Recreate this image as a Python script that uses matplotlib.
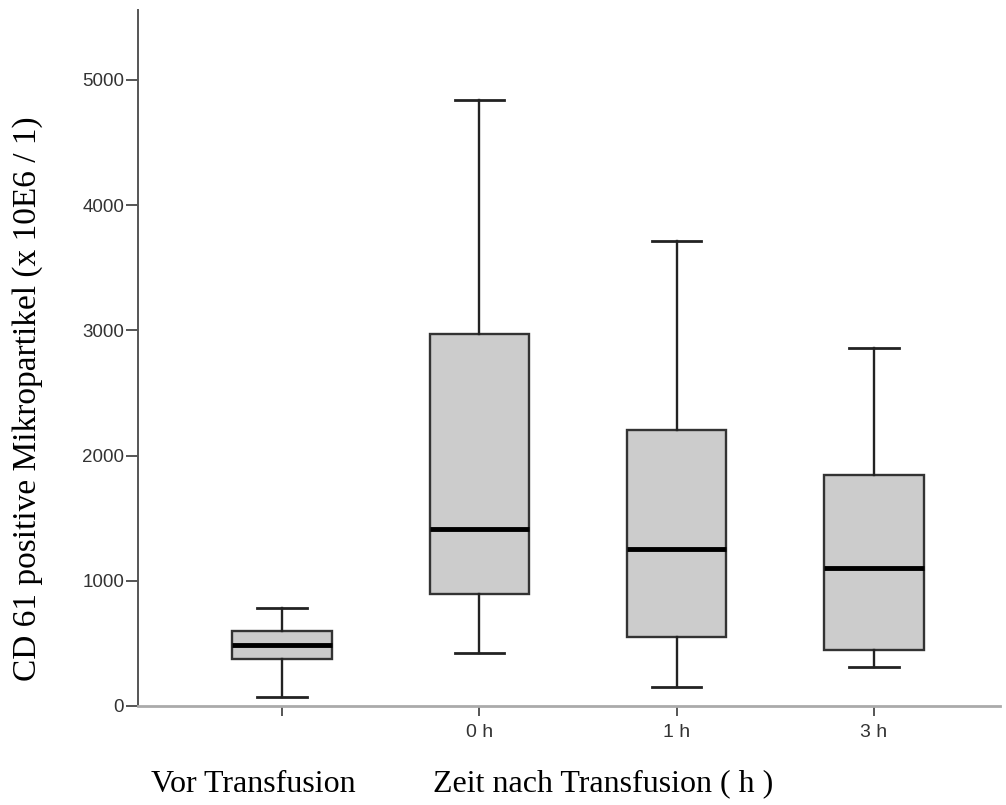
import matplotlib
matplotlib.use("Agg")
import matplotlib.pyplot as plt

# values (x 10E6 / l)
groups = ["", "0 h", "1 h", "3 h"]
whislo = [72, 423, 152, 311]
q1 = [375, 895, 551, 447]
med = [487, 1414, 1254, 1102]
q3 = [599, 2971, 2204, 1845]
whishi = [783, 4840, 3714, 2859]

stats = []
for i in range(len(groups)):
    stats.append(dict(label=groups[i], whislo=whislo[i], q1=q1[i], med=med[i],
                      q3=q3[i], whishi=whishi[i], fliers=[]))

fig = plt.figure(figsize=(10.06, 8.05), dpi=100)
ax = fig.add_axes([0.1372, 0.123, 0.857, 0.865])

ax.bxp(stats, positions=range(len(groups)), widths=0.505, patch_artist=True,
       showfliers=False,
       boxprops=dict(facecolor="#cccccc", edgecolor="#333333", linewidth=1.7),
       medianprops=dict(color="black", linewidth=3.5),
       whiskerprops=dict(color="#222222", linewidth=1.7),
       capprops=dict(color="#222222", linewidth=2),
       capwidths=0.25)

ax.set_xlim(-0.73, 3.64)
ax.set_ylim(0, 5560)
ax.set_yticks([0, 1000, 2000, 3000, 4000, 5000])
ax.set_xticks(range(len(groups)))
ax.set_xticklabels(groups)

for s in ["top", "right"]:
    ax.spines[s].set_visible(False)
ax.spines["left"].set_color("#555555")
ax.spines["left"].set_linewidth(1.4)
ax.spines["bottom"].set_color("#aaaaaa")
ax.spines["bottom"].set_linewidth(2)

ax.tick_params(axis="y", length=9, width=1.4, color="#555555", pad=1,
               labelsize=13.5, labelcolor="#333333")
ax.tick_params(axis="x", length=7, width=1.4, color="#555555", pad=6,
               labelsize=14, labelcolor="#333333")
for lab in ax.get_xticklabels() + ax.get_yticklabels():
    lab.set_fontfamily("Liberation Sans")

fig.text(0.027, 0.505, "CD 61 positive Mikropartikel (x 10E6 / 1)", rotation=90,
         ha="center", va="center", fontsize=24, family="Liberation Serif")
fig.text(0.252, 0.025, "Vor Transfusion", ha="center", va="center",
         fontsize=23, family="Liberation Serif")
fig.text(0.6, 0.027, "Zeit nach Transfusion ( h )", ha="center", va="center",
         fontsize=23, family="Liberation Serif")

fig.savefig("out.png", dpi=100)
